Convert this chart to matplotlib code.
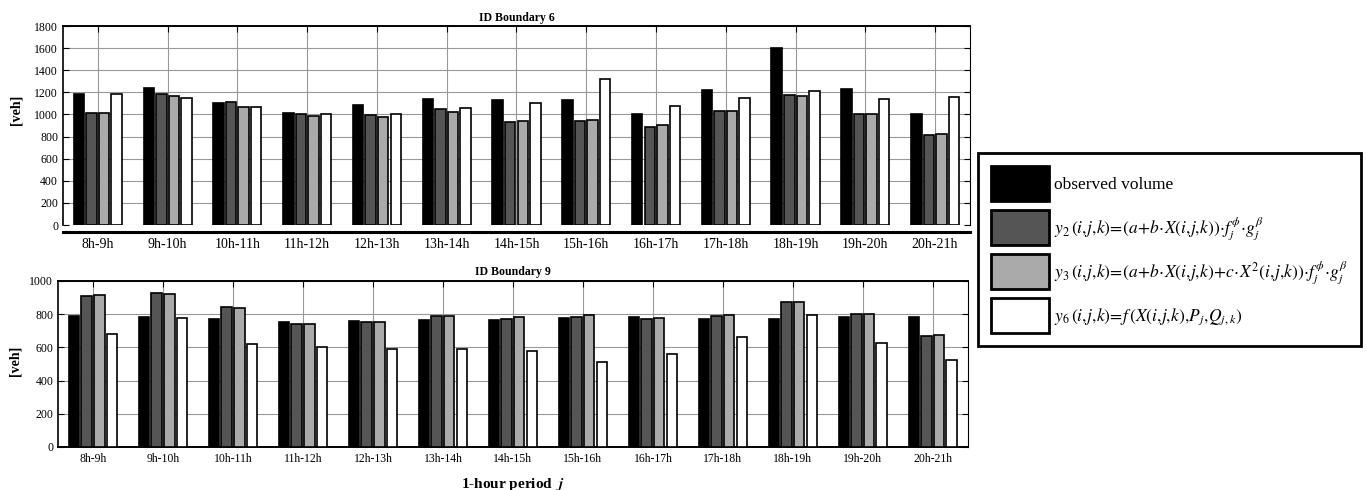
import matplotlib.pyplot as plt
import numpy as np
from matplotlib.patches import Patch

# hourly periods
periods = ['8h-9h', '9h-10h', '10h-11h', '11h-12h', '12h-13h', '13h-14h', '14h-15h',
           '15h-16h', '16h-17h', '17h-18h', '18h-19h', '19h-20h', '20h-21h']

# ID Boundary 6
b6_observed = [1182, 1239, 1103, 1010, 1088, 1140, 1134, 1134, 1004, 1218, 1604, 1233, 1004]
b6_y2 = [1010, 1188, 1109, 1007, 995, 1049, 929, 938, 886, 1028, 1173, 1001, 814]
b6_y3 = [1016, 1167, 1064, 989, 974, 1022, 944, 953, 901, 1028, 1167, 1001, 823]
b6_y6 = [1188, 1146, 1064, 1001, 1001, 1058, 1100, 1317, 1073, 1146, 1209, 1140, 1155]

# ID Boundary 9
b9_observed = [791, 785, 769, 753, 759, 763, 763, 775, 785, 769, 769, 785, 781]
b9_y2 = [908, 926, 841, 739, 751, 789, 773, 783, 773, 789, 873, 803, 667]
b9_y3 = [914, 920, 835, 739, 751, 789, 783, 795, 777, 795, 873, 803, 673]
b9_y6 = [683, 779, 620, 600, 590, 590, 578, 510, 560, 661, 795, 627, 522]

labels = [
    'observed volume',
    r'$y_2\,(i,\!j,\!k)\!=\!(a\!+\!b\!\cdot\! X(i,\!j,\!k))\!\cdot\! f_j^{\phi}\!\cdot\! g_j^{\beta}$',
    r'$y_3\,(i,\!j,\!k)\!=\!(a\!+\!b\!\cdot\! X(i,\!j,\!k)\!+\!c\!\cdot\! X^2(i,\!j,\!k))\!\cdot\! f_j^{\phi}\!\cdot\! g_j^{\beta}$',
    r'$y_6\,(i,\!j,\!k)\!=\!f\,(X(i,\!j,\!k),\!P_j,\!Q_{j,k})$',
]
colors = ['black', '#555555', '#aaaaaa', 'white']

plt.rcParams['font.family'] = ['Liberation Serif', 'DejaVu Serif']
plt.rcParams['mathtext.fontset'] = 'stix'

fig = plt.figure(figsize=(13.66, 4.9), dpi=100)
ax1 = fig.add_axes([0.0461, 0.5408, 0.664, 0.406])
ax2 = fig.add_axes([0.0425, 0.0878, 0.666, 0.3388])

x = np.arange(len(periods))
step = 0.18
width = 0.15


def draw(ax, series, ymax, title):
    for k, (vals, col) in enumerate(zip(series, colors)):
        ax.bar(x + (k - 1.5) * step, vals, width, color=col,
               edgecolor='black', linewidth=1.2, zorder=3)
    ax.set_xlim(-0.5, 12.5)
    ax.set_ylim(0, ymax)
    ax.set_xticks(x)
    ax.set_xticklabels(periods, fontsize=8.5)
    ax.grid(True, color='#999999', linewidth=0.8)
    ax.set_axisbelow(True)
    ax.tick_params(axis='y', labelsize=8.5, left=True, right=True,
                   direction='in', length=4)
    ax.tick_params(axis='x', bottom=False, top=True, direction='in',
                   length=4, pad=4)
    ax.set_title(title, fontsize=8.5, fontweight='bold', pad=4)
    ax.set_ylabel('[veh]', fontsize=10, fontweight='bold')
    ax.spines['top'].set_linewidth(1.4)
    ax.spines['left'].set_linewidth(1.2)
    ax.spines['right'].set_linewidth(0.8)


draw(ax1, [b6_observed, b6_y2, b6_y3, b6_y6], 1800, 'ID Boundary 6')
ax1.set_yticks(np.arange(0, 1801, 200))
ax1.spines['bottom'].set_position(('outward', 5))
ax1.spines['bottom'].set_linewidth(2.2)
ax1.yaxis.set_label_coords(-0.045, 0.58)

draw(ax2, [b9_observed, b9_y2, b9_y3, b9_y6], 1000, 'ID Boundary 9')
ax2.set_yticks(np.arange(0, 1001, 200))
ax2.spines['bottom'].set_linewidth(1.4)
ax2.yaxis.set_label_coords(-0.04, 0.52)
ax2.set_xlabel(r'1-hour period  $\boldsymbol{j}$', fontsize=11,
               fontweight='bold', labelpad=8)

handles = [Patch(facecolor=c, edgecolor='black', linewidth=2) for c in colors]
leg = fig.legend(handles, labels, loc='upper left',
                 bbox_to_anchor=(978 / 1366, 1 - 153 / 490),
                 borderaxespad=0, fontsize=12.5, handlelength=3.35,
                 handleheight=2.75, labelspacing=0.5, handletextpad=0.25,
                 borderpad=0.75, fancybox=False, framealpha=1)
leg.get_frame().set_edgecolor('black')
leg.get_frame().set_linewidth(2)

fig.savefig('out.png', dpi=100)
